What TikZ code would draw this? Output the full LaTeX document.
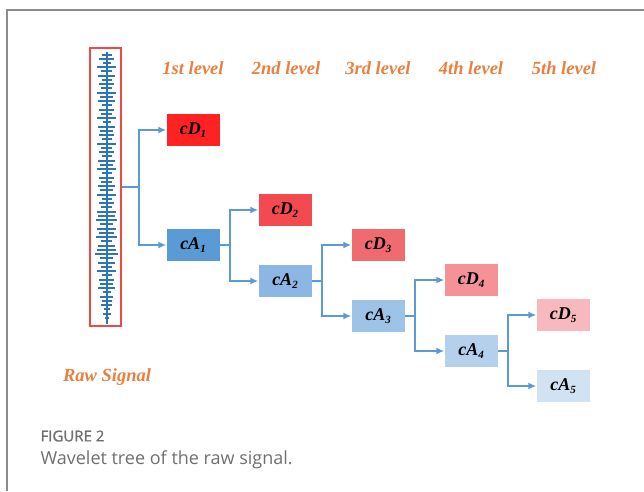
\documentclass[tikz,border=0pt]{standalone}
\usepackage{fontspec}
\setmainfont{Liberation Serif}
\newfontfamily\capfont{Open Sans}
\newfontfamily\capboldfont{Open Sans}[FakeBold=1.2]
\usetikzlibrary{arrows.meta}

\definecolor{lvlorange}{HTML}{E8813F}
\definecolor{linkblue}{HTML}{5B9BD5}
\definecolor{sigblue}{HTML}{2E75B6}
\definecolor{sigred}{HTML}{F04848}
\definecolor{frame}{HTML}{8C8C8C}
\definecolor{capgray}{HTML}{707070}
\definecolor{dA}{HTML}{FF2222}
\definecolor{dB}{HTML}{F24A50}
\definecolor{dC}{HTML}{EF6B70}
\definecolor{dD}{HTML}{F39297}
\definecolor{dE}{HTML}{F7B9BD}
\definecolor{aA}{HTML}{5B9BD5}
\definecolor{aB}{HTML}{8CB6E3}
\definecolor{aC}{HTML}{9DC3E6}
\definecolor{aD}{HTML}{B5D0EC}
\definecolor{aE}{HTML}{D1E2F3}

\tikzset{
  coef/.style={minimum width=53pt, minimum height=32pt, inner sep=0pt,
    font=\fontsize{18}{18}\selectfont\bfseries\itshape},
  lvl/.style={text=lvlorange, font=\fontsize{18.5}{19}\selectfont\bfseries\itshape},
  link/.style={draw=linkblue, line width=1.8pt},
  conn/.style={link, -{Latex[length=8pt,width=7pt]}},
  tick/.style={draw=sigblue, line width=1.7pt},
}
\newcommand{\cf}[2]{c#1\raisebox{-0.3ex}{\fontsize{11}{11}\selectfont #2}}

\begin{document}
\begin{tikzpicture}[x=1pt,y=-1pt]
\useasboundingbox (0,0) rectangle (644,491);
\fill[white] (0,0) rectangle (644,491);

% frame lines
\draw[frame, line width=1.5pt] (7,491) -- (7,10) -- (644,10);

% raw signal trace
\draw[sigblue, line width=1.2pt] (107,52) -- (107,324);
\foreach \yy/\ww in {55/5,59/8,63/4,67/10,71/6,76/9,80/5,84/8,88/6,93/10,
  97/7,101/9,105/5,110/8,114/6,118/10,122/4,127/9,131/7,135/8,139/5,144/10,
  148/6,152/8,156/5,161/9,165/7,169/10,173/5,178/8,182/6,186/9,190/7,195/10,
  199/5,203/8,207/6,212/10,216/9,220/11,224/7,229/10,233/8,237/11,241/6,
  246/9,250/10,254/12,258/7,263/9,267/6,271/10,275/5,280/8,284/7,288/9,
  292/4,297/7,301/5,305/6,309/3,314/4,318/2}
  \draw[tick] (107-\ww,\yy) -- (107+\ww*0.9,\yy);
\node[draw=sigred, line width=1.4pt, minimum width=31pt, minimum height=278pt,
  inner sep=0pt] (sigbox) at (105.5,187) {};

% level headings
\node[lvl] (l1) at (193,68) {1st level};
\node[lvl] (l2) at (286,68) {2nd level};
\node[lvl] (l3) at (378,68) {3rd level};
\node[lvl] (l4) at (471,68) {4th level};
\node[lvl] (l5) at (564,68) {5th level};

% coefficient boxes
\node[coef, fill=dA] (cD1) at (193,130) {\cf{D}{1}};
\node[coef, fill=aA] (cA1) at (193,245) {\cf{A}{1}};
\node[coef, fill=dB] (cD2) at (285,210) {\cf{D}{2}};
\node[coef, fill=aB] (cA2) at (285,281) {\cf{A}{2}};
\node[coef, fill=dC] (cD3) at (378,245) {\cf{D}{3}};
\node[coef, fill=aC] (cA3) at (378,316) {\cf{A}{3}};
\node[coef, fill=dD] (cD4) at (471,280) {\cf{D}{4}};
\node[coef, fill=aD] (cA4) at (471,351) {\cf{A}{4}};
\node[coef, fill=dE] (cD5) at (563,315) {\cf{D}{5}};
\node[coef, fill=aE] (cA5) at (563,386) {\cf{A}{5}};

% decomposition links
\draw[link] (sigbox.east) -- ++(17,0) coordinate (j0);
\draw[conn] (j0) |- (cD1.west);
\draw[conn] (j0) |- (cA1.west);
\draw[link] (cA1.east) -- ++(10,0) coordinate (j1);
\draw[conn] (j1) |- (cD2.west);
\draw[conn] (j1) |- (cA2.west);
\draw[link] (cA2.east) -- ++(10,0) coordinate (j2);
\draw[conn] (j2) |- (cD3.west);
\draw[conn] (j2) |- (cA3.west);
\draw[link] (cA3.east) -- ++(10,0) coordinate (j3);
\draw[conn] (j3) |- (cD4.west);
\draw[conn] (j3) |- (cA4.west);
\draw[link] (cA4.east) -- ++(10,0) coordinate (j4);
\draw[conn] (j4) |- (cD5.west);
\draw[conn] (j4) |- (cA5.west);

% signal label
\node[lvl] (raw) at (107,377) {Raw Signal};

% caption
\node[anchor=west, text=capgray, font=\capboldfont\fontsize{15}{15}\selectfont]
  (fig) at (37,436) {FIGURE 2};
\node[anchor=west, text=capgray, font=\capfont\fontsize{18}{18}\selectfont]
  (cap) at (37,460) {Wavelet tree of the raw signal.};
\end{tikzpicture}
\end{document}
